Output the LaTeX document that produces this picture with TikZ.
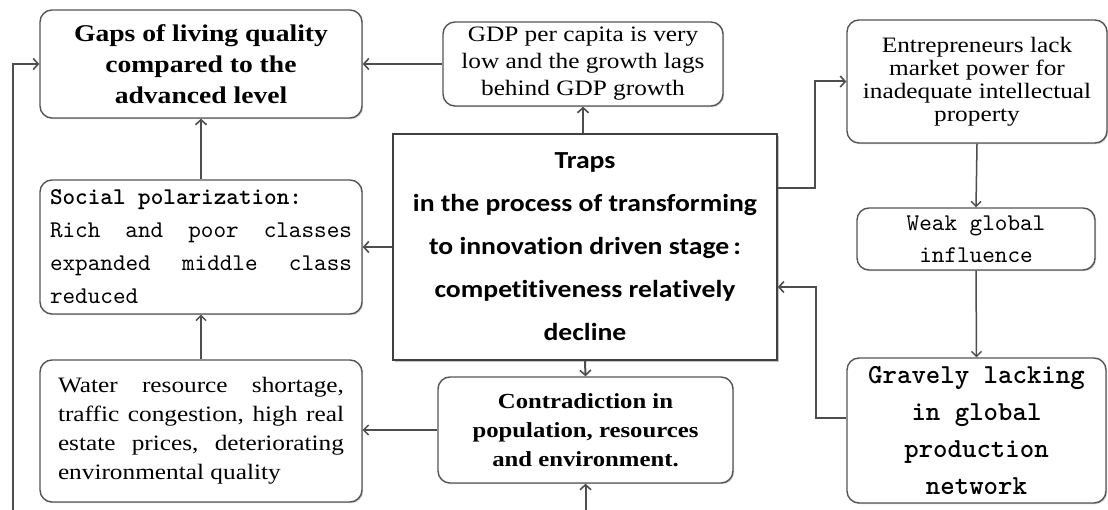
\documentclass[tikz,border=0pt]{standalone}
\usepackage{fontspec}
\usetikzlibrary{arrows.meta,shadows,calc}
\newfontfamily\serifS{Liberation Serif}[FakeStretch=1.15]
\newfontfamily\monoS{lmmono10-regular}[Extension=.otf]
\newfontfamily\monoB{lmmonolt10-bold}[Extension=.otf]
\newfontfamily\calS{Carlito}[FakeStretch=1.13,Ligatures=NoCommon]
\definecolor{linec}{HTML}{4D4D4D}
\definecolor{boxc}{HTML}{555555}
\tikzset{
  rbox/.style={draw=boxc, line width=1.4pt, rounded corners=12pt, fill=white,
    inner sep=0pt, align=center,
    drop shadow={shadow xshift=1.2pt, shadow yshift=-1.2pt, fill=black!35}},
  tbox/.style={draw=black!75, line width=1.6pt, fill=white, inner sep=0pt, align=center,
    drop shadow={shadow xshift=2pt, shadow yshift=-2pt, fill=black!45}},
  conn/.style={draw=linec, line width=2pt,
    -{Straight Barb[length=5pt,width=11pt,line width=1.6pt]}},
  connthin/.style={draw=linec, line width=1.5pt,
    -{Straight Barb[length=5pt,width=10pt,line width=1.4pt]}}
}
\begin{document}
\begin{tikzpicture}[x=1pt,y=-1pt]
\useasboundingbox (0,0) rectangle (1108,510);
\fill[white] (0,0) rectangle (1108,510);

\node[rbox, minimum width=322pt, minimum height=108pt,
  font={\serifS\bfseries\fontsize{24}{31}\selectfont}] (gaps) at (201,64)
  {Gaps of living quality\\compared to the\\advanced level};

\node[rbox, minimum width=280pt, minimum height=84pt,
  font={\serifS\fontsize{22}{27}\selectfont}] (gdp) at (583,64)
  {GDP per capita is very\\low and the growth lags\\behind GDP growth};

\node[tbox, minimum width=384pt, minimum height=226pt,
  font={\calS\bfseries\fontsize{24.5}{43}\selectfont}] (traps) at (585,247)
  {Traps\\in the process of transforming\\to innovation driven stage\,:\\competitiveness relatively\\decline};

\node[rbox, minimum width=260pt, minimum height=123pt,
  font={\serifS\fontsize{22}{23}\selectfont}] (ent) at (977,81.5)
  {Entrepreneurs lack\\market power for\\inadequate intellectual\\property};

\node[rbox, minimum width=238pt, minimum height=62pt,
  font={\monoS\fontsize{24}{32}\selectfont}] (weak) at (976,239)
  {Weak global\\influence};

\node[rbox, minimum width=259pt, minimum height=145pt,
  font={\monoB\fontsize{27.5}{37}\selectfont}] (grav) at (976.5,430.5)
  {Gravely lacking\\in global\\production\\network};

\node[rbox, minimum width=322pt, minimum height=134pt, align=left,
  font={\monoS\fontsize{24}{33}\selectfont}] (social) at (201,247)
  {\hbox to 302pt{\monoB Social polarization:\hfill}\\
   \hbox to 302pt{Rich\hfill and\hfill poor\hfill classes}\\
   \hbox to 302pt{expanded\hfill middle\hfill class}\\
   \hbox to 302pt{reduced\hfill}};

\node[rbox, minimum width=322pt, minimum height=142pt, align=left,
  font={\serifS\fontsize{22}{29}\selectfont}] (water) at (201,431)
  {\hbox to 286pt{Water\hfill resource\hfill shortage,}\\
   \hbox to 286pt{traffic\hfill congestion,\hfill high\hfill real}\\
   \hbox to 286pt{estate\hfill prices,\hfill deteriorating}\\
   \hbox to 286pt{environmental quality\hfill}};

\node[rbox, minimum width=295pt, minimum height=106pt,
  font={\serifS\bfseries\fontsize{21.5}{29}\selectfont}] (contra) at (585.5,430)
  {Contradiction in\\population, resources\\and environment.};

% connectors
\coordinate (lb) at (13,510);
\coordinate (bb) at (585.5,510);
\coordinate (rt) at (815,188);
\coordinate (rg) at (816,287);

\draw[conn] (lb) |- (gaps.west);
\draw[conn] (gdp.west) -- (gaps.east);
\draw[conn] (traps.north -| gdp.south) -- (gdp.south);
\draw[conn] (social.north) -- (gaps.south);
\draw[conn] (traps.west |- social.east) -- (social.east);
\draw[connthin] (water.north) -- (social.south);
\draw[connthin] (contra.west) -- (contra.west -| water.east);
\draw[conn] (traps.south) -- (contra.north);
\draw[conn] (bb) -- (contra.south);
\draw[conn] (traps.east |- rt) -- (rt) |- (ent.west);
\draw[connthin] (ent.south) -- (weak.north);
\draw[connthin] (weak.south) -- (grav.north);
\draw[conn] ($(grav.west)+(0,-13)$) -| (rg) -- (traps.east |- rg);
\end{tikzpicture}
\end{document}
